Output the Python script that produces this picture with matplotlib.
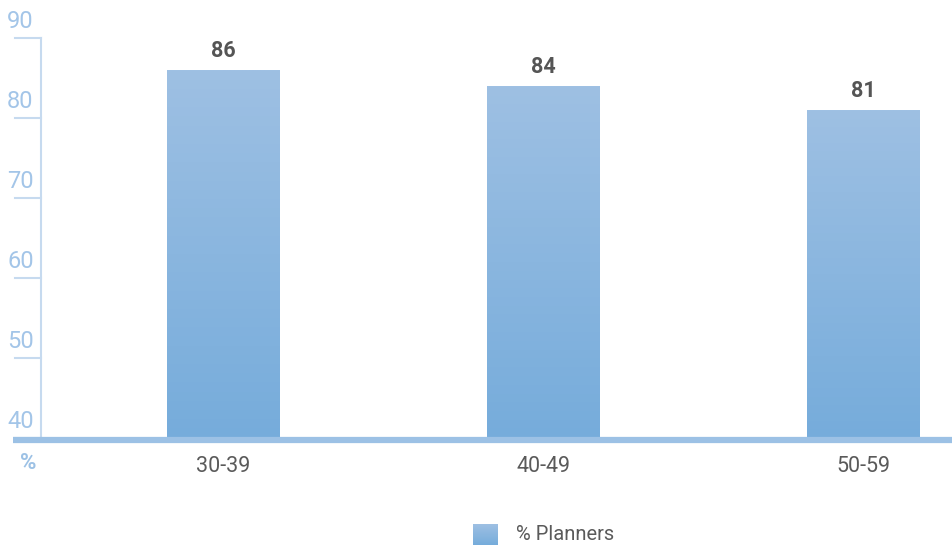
import numpy as np
import matplotlib.pyplot as plt

age_groups = ['30-39', '40-49', '50-59']
planners = [86, 84, 81]
y_ticks = [40, 50, 60, 70, 80, 90]

plt.rcParams['font.family'] = ['Roboto', 'DejaVu Sans']

fig = plt.figure(figsize=(9.52, 5.45), dpi=100)
ax = fig.add_axes([41 / 952, 1 - 438 / 545, 1 - 41 / 952, 400 / 545])
ax.set_xlim(-0.569, 2.278)
ax.set_ylim(40, 90)
ax.axis('off')

top_c = np.array([0x9e, 0xc0, 0xe3]) / 255
bot_c = np.array([0x76, 0xac, 0xdb]) / 255
grad = np.linspace(0, 1, 256)[:, None, None]
img = top_c * (1 - grad) + bot_c * grad

width = 0.353
x = np.arange(len(age_groups))
bars = ax.bar(x, planners, width=width, color='none')
for b, v in zip(bars, planners):
    x0 = b.get_x()
    im = ax.imshow(img, extent=(x0, x0 + width, 40, v), aspect='auto',
                   origin='upper', zorder=2)
    im.set_clip_path(b)
    ax.text(b.get_x() + width / 2, v + 1.0, str(v), ha='center', va='bottom',
            fontsize=15.5, fontweight='bold', color='#555555')

# y axis with tick lines drawn to the left
axis_c = '#c6daef'
ax.plot([-0.569, -0.569], [40, 90], color=axis_c, lw=1.5, clip_on=False)
for t in y_ticks:
    ax.plot([-0.569 - 26 / 320, -0.569], [t, t], color=axis_c, lw=1.5,
            clip_on=False)
    ax.text(-0.569 - 34 / 320, t + 0.6, str(t), ha='left', va='bottom',
            fontsize=17, color='#a3c5e8', fontweight='normal')

# baseline
ax.plot([-0.569 - 28 / 320, 2.278], [39.75, 39.75], color='#9cc1e5', lw=4.5,
        clip_on=False, solid_capstyle='butt', zorder=3)

for xi, lab in zip(x, age_groups):
    ax.text(xi, 36.5, lab, ha='center', va='center', fontsize=15.5,
            color='#5a5a5a', fontweight='normal')
ax.text(-0.569 - 13 / 320, 36.9, '%', ha='center', va='center', fontsize=16,
        fontweight='bold', color='#9cc1e5')

# legend
lax = fig.add_axes([473 / 952, 1 - 545 / 545, 24 / 952, 21 / 545])
lax.imshow(img, aspect='auto', extent=(0, 1, 0, 1))
lax.axis('off')
fig.text(516 / 952, 1 - 535 / 545, '% Planners', ha='left', va='center',
         fontsize=14.5, color='#5a5a5a', fontweight='normal')

fig.savefig('out.png', dpi=100)
